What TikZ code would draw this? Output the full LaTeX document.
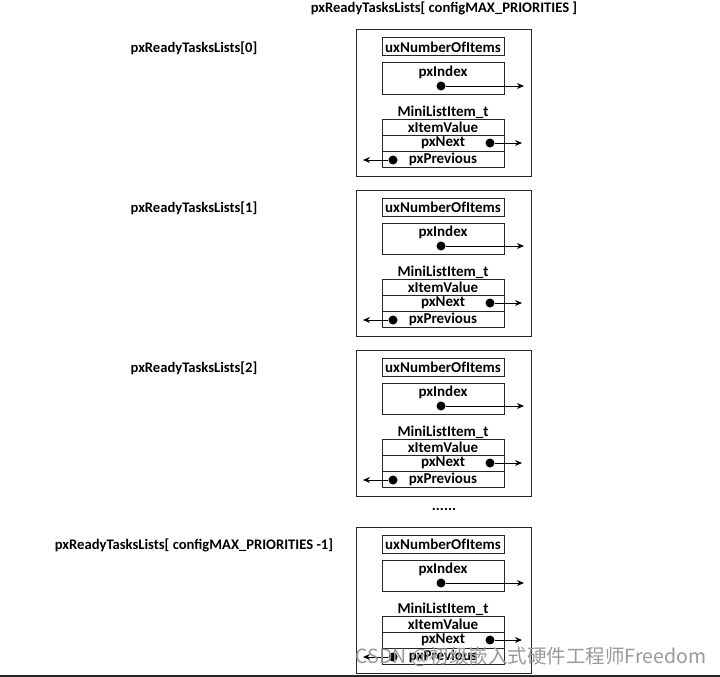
\documentclass[tikz,border=0pt]{standalone}
\usepackage{fontspec}
\setmainfont{Carlito}
\newfontfamily\cjkfont{Noto Sans CJK SC}
\usetikzlibrary{arrows.meta}
\newcommand{\bx}{356}
\newcommand{\bw}{175}
\newcommand{\ix}{382}
\newcommand{\iw}{122}
\newcommand{\mx}{443}
% one entry of the ready list: #1 name, #2 top of box, #3 label
\newcommand{\rlist}[3]{
	\node[outer] (#1box) at (\bx+\bw/2,#2+73) {};
	\node[lbl] (#1lbl) at (194,#2+18) {#3};
	\node[cell, minimum height=18] (#1num) at (\mx,#2+17) {uxNumberOfItems};
	\node[cell, minimum height=31] (#1idx) at (\mx,#2+48.5) {};
	\node[txt] (#1idxt) at (\mx,#2+42.5) {pxIndex};
	\node[dot] (#1idxd) at (441,#2+56) {};
	\coordinate (#1idxe) at (524,#2+56);
	\draw[ptr] (#1idxd) -- (#1idxe);
	\node[txt] (#1mini) at (\mx,#2+82.5) {MiniListItem\_t};
	\node[cell] (#1val) at (\mx,#2+97) {xItemValue};
	\node[cell] (#1nxt) at (\mx,#2+113) {pxNext};
	\node[cell] (#1prv) at (\mx,#2+129) {pxPrevious};
	\node[dot] (#1nxtd) at (490,#2+113) {};
	\coordinate (#1nxte) at (522,#2+113);
	\draw[ptr] (#1nxtd) -- (#1nxte);
	\node[dot] (#1prvd) at (393,#2+130) {};
	\coordinate (#1prve) at (363,#2+130);
	\draw[ptr] (#1prvd) -- (#1prve);
	}

\begin{document}
\begin{tikzpicture}[
      x=1pt, y=-1pt,
      outer/.style={draw=black!85, line width=1, minimum width=\bw, minimum height=146, inner sep=0},
      cell/.style={draw=black!85, line width=1, minimum width=\iw, minimum height=16, inner sep=0, font=\bfseries\fontsize{15}{15}\selectfont},
      txt/.style={inner sep=0, font=\bfseries\fontsize{15}{15}\selectfont},
      lbl/.style={inner sep=0, font=\bfseries\fontsize{14.6}{14.6}\selectfont},
      dot/.style={circle, fill=black, inner sep=0, minimum size=9},
      ptr/.style={line width=1, -{Stealth[length=7, width=6]}}
    ]
    \useasboundingbox (0,0) rectangle (720,677);
    % title of the array
    \node[lbl] (title) at (444,8.5) {pxReadyTasksLists[ configMAX\_PRIORITIES ]};
    % the entries
    \rlist{l0}{30}{pxReadyTasksLists[0]};
    \rlist{l1}{190}{pxReadyTasksLists[1]};
    \rlist{l2}{350}{pxReadyTasksLists[2]};
    \node[txt] (gap) at (444,509) {......};
    \rlist{ln}{527}{pxReadyTasksLists[ configMAX\_PRIORITIES -1]};
    % bottom edge and watermark
    \draw[line width=2, black!85] (0,676) -- (720,676);
    \node[inner sep=0, text=black!40, font=\cjkfont\fontsize{19.5}{19.5}\selectfont] (mark) at (531,657) {CSDN @初级嵌入式硬件工程师Freedom};
\end{tikzpicture}
\end{document}
